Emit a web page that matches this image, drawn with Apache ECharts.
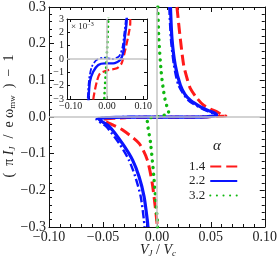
<!DOCTYPE html>
<html><head><meta charset="utf-8">
<script src="https://cdn.jsdelivr.net/npm/echarts@6/dist/echarts.min.js"></script>
<style>html,body{margin:0;padding:0;background:#fff}#c{width:280px;height:262px}</style>
</head><body><div id="c"></div>
<script>
// ---- data: [V_J/V_c, (pi I_J / e w_mw) - 1] along each curve ----
var xTicksMain = [-0.10, -0.05, 0.00, 0.05, 0.10];
var yTicksMain = [-0.3, -0.2, -0.1, 0.0, 0.1, 0.2, 0.3];
var xTicksInset = [-0.10, 0.00, 0.10];
var yTicksInset = [-3, -2, -1, 0, 1, 2, 3];
var legendNames = ['1.4', '2.2', '3.2'];

var red14 = [[0.0186,0.30],[0.0217,0.214],[0.0248,0.142],[0.028,0.105],[0.031,0.078],[0.037,0.052],[0.043,0.033],[0.0495,0.022],[0.0553,0.0145],[0.060,0.007],
  [0.064,0.0027],[0.059,0.0018],[0.049,0.00055],[0.040,-0.00033],[0.027,-0.0007],[0.004,-0.00083],[-0.019,-0.00108],[-0.028,-0.0017],[-0.038,-0.0031],
  [-0.050,-0.008],[-0.042,-0.020],[-0.032,-0.035],[-0.0165,-0.072],[-0.0089,-0.117],[-0.0043,-0.181],[-0.0012,-0.253],[0.0003,-0.294],[0.0004,-0.30]];
var blue22 = [[0.0126,0.30],[0.014,0.214],[0.017,0.142],[0.0217,0.087],[0.026,0.062],[0.031,0.046],[0.037,0.034],[0.043,0.024],[0.049,0.016],[0.054,0.010],[0.0555,0.005],
  [0.054,0.0028],[0.049,0.0016],[0.045,0.00055],[0.036,-0.00008],[0.017,-0.00033],[-0.0055,-0.00033],[-0.024,-0.00045],[-0.038,-0.00096],[-0.047,-0.0017],[-0.051,-0.0031],
  [-0.054,-0.005],[-0.044,-0.026],[-0.032,-0.072],[-0.0226,-0.117],[-0.0165,-0.163],[-0.0119,-0.217],[-0.0089,-0.281],[-0.0083,-0.30]];
var blue22b = [[0.0115,0.30],[0.013,0.214],[0.0158,0.142],[0.020,0.087],[0.029,0.046],[0.041,0.024],[0.052,0.010],[0.054,0.005],
  [0.052,0.003],[0.047,0.0018],[0.042,0.0008],[0.033,0.0002],[0.015,0.0],[-0.01,0.0001],[-0.03,-0.0001],[-0.042,-0.0006],[-0.049,-0.0015],[-0.053,-0.003],
  [-0.056,-0.006],[-0.047,-0.026],[-0.035,-0.072],[-0.026,-0.117],[-0.020,-0.163],[-0.015,-0.217],[-0.012,-0.281],[-0.0115,-0.30]];
var green32 = [[0.0009,0.30],[0.0018,0.215],[0.0040,0.123],[0.006,0.075],[0.008,0.042],[0.011,0.010],
  [0.0036,0.003],[-0.001,0.0],[-0.0074,-0.003],
  [-0.0089,-0.008],[-0.0058,-0.072],[-0.0028,-0.163],[0.0003,-0.28],[0.0005,-0.30]];

var RED = '#ff1a1a', BLUE = '#0a14ff', GREEN = '#10b810';
var SERIF = '"Liberation Serif", "DejaVu Serif", serif';
function mfmt(d){ return function(v){ if (Math.abs(v) < 1e-9) return (0).toFixed(d); return (v<0?'\u2212':'') + Math.abs(v).toFixed(d); }; }

var chart = echarts.init(document.getElementById('c'), null, {renderer:'canvas'});
var axLine = {show:true, onZero:false, lineStyle:{color:'#111', width:1}};
var zeroLines = {silent:true, symbol:'none', label:{show:false}, animation:false,
  lineStyle:{color:'#c4c4c4', width:1.5, type:'solid'}, data:[{yAxis:0},{xAxis:0}]};
function lineSeries(name, data, style, xi, yi, withMark){
  var s = {name:name, type:'line', data:data, xAxisIndex:xi, yAxisIndex:yi, showSymbol:false, symbol:'none',
    smooth:0.25, lineStyle:style, color:style.color, clip:true, z:3};
  if (withMark) s.markLine = zeroLines;
  return s;
}
var sRed = {color:RED, width:3, type:[11,5]};
var sBlue = {color:BLUE, width:3.2, type:'solid'};
var sBlueB = {color:BLUE, width:2.4, type:[8,3,2,3]};
var sGreen = {color:GREEN, width:3.4, type:[0.1,6.5], cap:'round'};
var tk = {color:'#111'};

var option = {
  animation:false,
  grid:[
    {left:49, top:6, width:219, height:221, containLabel:false},
    {left:67, top:19, width:80, height:80, show:true, backgroundColor:'#fff', borderWidth:0}
  ],
  xAxis:[
    {type:'value', gridIndex:0, position:'bottom', min:-0.1, max:0.1, interval:0.05, splitLine:{show:false}, axisLine:axLine,
     axisTick:{inside:true, length:5, lineStyle:tk}, minorTick:{show:true, splitNumber:5, length:3, lineStyle:tk},
     axisLabel:{formatter:mfmt(2), fontFamily:SERIF, fontSize:14, color:'#222', margin:3, showMinLabel:true, showMaxLabel:true}},
    {type:'value', gridIndex:0, position:'top', min:-0.1, max:0.1, interval:0.05, splitLine:{show:false}, axisLine:axLine,
     axisTick:{inside:true, length:5, lineStyle:tk}, minorTick:{show:true, splitNumber:5, length:3, lineStyle:tk},
     axisLabel:{show:false}},
    {type:'value', gridIndex:1, position:'bottom', min:-0.11, max:0.11, splitLine:{show:false}, axisLine:axLine,
     axisTick:{inside:true, length:3, customValues:[-0.1,-0.05,0,0.05,0.1], lineStyle:tk},
     axisLabel:{customValues:xTicksInset, formatter:mfmt(2), fontFamily:SERIF, fontSize:10, color:'#222', margin:2}},
    {type:'value', gridIndex:1, position:'top', min:-0.11, max:0.11, splitLine:{show:false}, axisLine:axLine,
     axisTick:{inside:true, length:3, customValues:[-0.1,-0.05,0,0.05,0.1], lineStyle:tk},
     axisLabel:{show:false}}
  ],
  yAxis:[
    {type:'value', gridIndex:0, position:'left', min:-0.3, max:0.3, interval:0.1, splitLine:{show:false}, axisLine:axLine,
     axisTick:{inside:true, length:5, lineStyle:tk}, minorTick:{show:true, splitNumber:5, length:3, lineStyle:tk},
     axisLabel:{formatter:mfmt(1), fontFamily:SERIF, fontSize:14, color:'#222', margin:3, showMinLabel:true, showMaxLabel:true}},
    {type:'value', gridIndex:0, position:'right', min:-0.3, max:0.3, interval:0.1, splitLine:{show:false}, axisLine:axLine,
     axisTick:{inside:true, length:5, lineStyle:tk}, minorTick:{show:true, splitNumber:5, length:3, lineStyle:tk},
     axisLabel:{show:false}},
    {type:'value', gridIndex:1, position:'left', min:-0.003, max:0.003, interval:0.001, splitLine:{show:false}, axisLine:axLine,
     axisTick:{inside:true, length:3, lineStyle:tk},
     axisLabel:{formatter:function(v){var n=Math.round(v*1000);return (n<0?'\u2212':'')+Math.abs(n);}, fontFamily:SERIF, fontSize:10, color:'#222', margin:3}},
    {type:'value', gridIndex:1, position:'right', min:-0.003, max:0.003, interval:0.001, splitLine:{show:false}, axisLine:axLine,
     axisTick:{inside:true, length:3, lineStyle:tk}, axisLabel:{show:false}}
  ],
  legend:{data:legendNames, orient:'vertical', left:184, top:155, align:'right', itemWidth:27, itemHeight:14, itemGap:1.5,
    itemStyle:{opacity:0, borderWidth:0},
    textStyle:{fontFamily:SERIF, fontSize:13, color:'#222'}, selectedMode:false},
  series:[
    lineSeries('1.4', red14, sRed, 0, 0, true),
    lineSeries('2.2b', blue22b, sBlueB, 0, 0, false),
    lineSeries('2.2', blue22, sBlue, 0, 0, false),
    lineSeries('3.2', green32, sGreen, 0, 0, false),
    lineSeries('1.4', red14, {color:RED, width:2.2, type:[7,3]}, 2, 2, true),
    lineSeries('2.2b', blue22b, {color:BLUE, width:1.8, type:[6,2,2,2]}, 2, 2, false),
    lineSeries('2.2', blue22, {color:BLUE, width:2.4, type:'solid'}, 2, 2, false),
    lineSeries('3.2', green32, {color:GREEN, width:2.6, type:[0.1,5], cap:'round'}, 2, 2, false)
  ],
  graphic:[
    {type:'text', x:9, y:116, rotation:Math.PI/2, z:10,
     style:{align:'center', verticalAlign:'middle', fill:'#222',
       text:'{n|(  \u03c0 }{i|I}{s|J}{n|  /  e \u03c9}{u|mw}{n|  )  \u2212  1}',
       rich:{
         n:{fontFamily:SERIF, fontSize:14, lineHeight:15, fill:'#222'},
         i:{fontFamily:SERIF, fontSize:14, fontStyle:'italic', lineHeight:15, fill:'#222'},
         s:{fontFamily:SERIF, fontSize:9, fontStyle:'italic', lineHeight:9, padding:[8,1,0,0], fill:'#222'},
         u:{fontFamily:SERIF, fontSize:9, lineHeight:9, padding:[8,0,0,0], fill:'#222'}
       }}},
    {type:'text', x:158, y:250, z:10,
     style:{align:'center', verticalAlign:'middle', fill:'#222',
       text:'{i|V}{s|J}{n| / }{i|V}{s|c}',
       rich:{
         n:{fontFamily:SERIF, fontSize:14, lineHeight:15, fill:'#222'},
         i:{fontFamily:SERIF, fontSize:14, fontStyle:'italic', lineHeight:15, fill:'#222'},
         s:{fontFamily:SERIF, fontSize:9, fontStyle:'italic', lineHeight:9, padding:[8,0,0,0], fill:'#222'}
       }}},
    {type:'text', x:217, y:146, z:10,
     style:{align:'center', verticalAlign:'middle', text:'\u03b1', fontFamily:SERIF, fontSize:15, fontStyle:'italic', fill:'#222'}},
    {type:'text', x:71, y:27, z:10,
     style:{align:'left', verticalAlign:'middle', fill:'#222',
       text:'{n|\u00d7 10}{p|\u22123}',
       rich:{
         n:{fontFamily:SERIF, fontSize:9, lineHeight:10, fill:'#222'},
         p:{fontFamily:SERIF, fontSize:6, lineHeight:6, padding:[0,0,6,0], fill:'#222'}
       }}}
  ]
};
chart.setOption(option);
</script></body></html>
